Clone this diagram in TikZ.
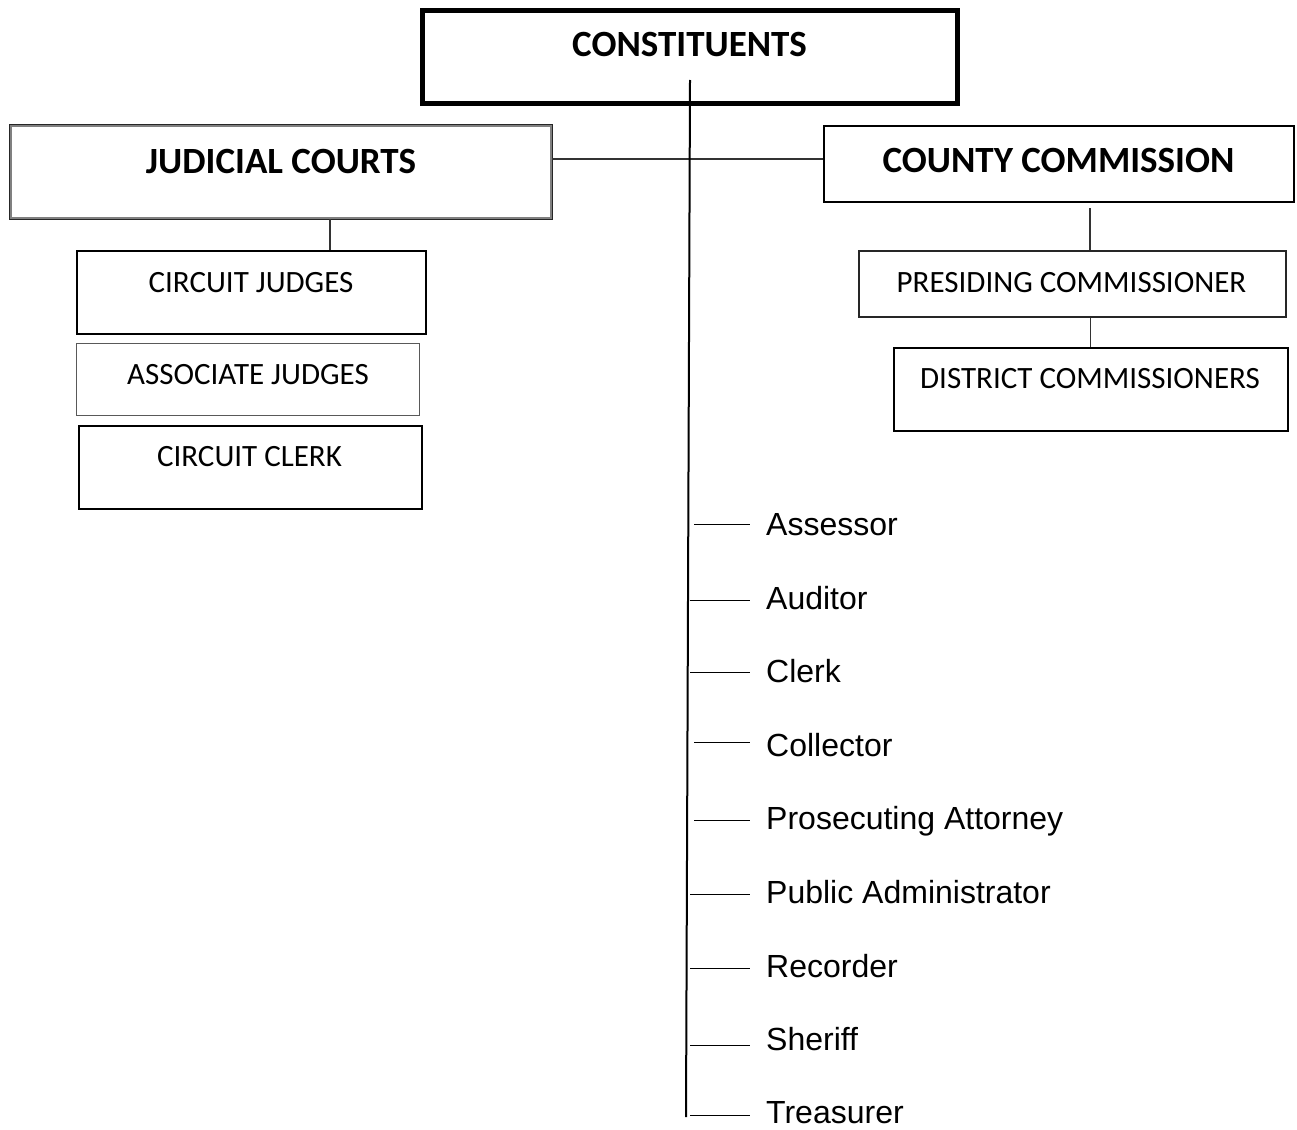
\documentclass[tikz,border=0pt]{standalone}
\usepackage{fontspec}
\setmainfont{Carlito}
\newfontfamily\arialfont{Liberation Sans}
\begin{document}
\begin{tikzpicture}[x=1pt,y=-1pt,
  box/.style={draw, rectangle, inner sep=0pt},
  title/.style={font=\fontsize{37}{40}\selectfont\bfseries, anchor=base, inner sep=0pt},
  btext/.style={font=\fontsize{31}{34}\selectfont, anchor=base, inner sep=0pt},
  item/.style={font=\arialfont\fontsize{32}{36}\selectfont, anchor=base west, inner xsep=16pt, inner ysep=0pt},
  conn/.style={draw=black!80, line width=1.1pt},
  tick/.style={draw=black, line width=1pt},
  spine/.style={draw=black, line width=2pt}]
\useasboundingbox (0,0) rectangle (1297,1129);

% boxes
\node[box, line width=5pt, minimum width=535pt, minimum height=93pt] (con) at (690,57) {};
\node[box, draw=black!50, line width=2.8pt, minimum width=540pt, minimum height=92pt] (jud) at (281,172) {};
\draw[black!85, line width=1.1pt] (jud.north west) rectangle (jud.south east);
\node[box, line width=2.5pt, minimum width=470pt, minimum height=76pt] (cty) at (1059,164) {};
\node[box, line width=2pt, minimum width=349pt, minimum height=83pt] (cj) at (251,292) {};
\node[box, draw=black!65, line width=1.6pt, minimum width=343pt, minimum height=72pt] (aj) at (248,379.5) {};
\node[box, line width=2pt, minimum width=343pt, minimum height=83pt] (cc) at (250,467) {};
\node[box, draw=black!85, line width=2pt, minimum width=427pt, minimum height=66pt] (pc) at (1072,283.5) {};
\node[box, line width=2pt, minimum width=394pt, minimum height=83pt] (dc) at (1090.5,389) {};

% box texts
\node[title] (conT) at (689.5,57) {CONSTITUENTS};
\node[title] (judT) at (281,173) {JUDICIAL COURTS};
\node[title] (ctyT) at (1058.5,172) {COUNTY COMMISSION};
\node[btext] (cjT) at (251,292) {CIRCUIT JUDGES};
\node[btext] (ajT) at (248,384) {ASSOCIATE JUDGES};
\node[btext] (ccT) at (249.5,466) {CIRCUIT CLERK};
\node[btext] (pcT) at (1071.5,292) {PRESIDING COMMISSIONER};
\node[btext] (dcT) at (1090,388) {DISTRICT COMMISSIONERS};

% connectors between boxes
\coordinate (jc) at ([yshift=13pt]jud.east);
\draw[conn] (jc) -- (jc -| cty.west);
\draw[conn] (jud.south -| 330,0) -- (cj.north -| 330,0);
\coordinate (cc1) at (1090,208);
\draw[conn] (cc1) -- (pc.north -| cc1);
\draw[conn] (pc.south -| dc.north) -- (dc.north);

% spine
\coordinate (spT) at (690,80);
\coordinate (spB) at (686,1117);
\draw[spine] (spT) -- (spB);

% list items
\node[item] (i1) at (750,535.5) {Assessor};
\node[item] (i2) at (750,609.5) {Auditor};
\node[item] (i3) at (750,682.5) {Clerk};
\node[item] (i4) at (750,756.5) {Collector};
\node[item] (i5) at (750,829.5) {Prosecuting Attorney};
\node[item] (i6) at (750,903.5) {Public Administrator};
\node[item] (i7) at (750,977.5) {Recorder};
\node[item] (i8) at (750,1050.5) {Sheriff};
\node[item] (i9) at (750,1123.5) {Treasurer};

\foreach \n/\sx/\ty in {i1/694/524, i2/690/600, i3/690/672, i4/694/742, i5/694/820, i6/690/894, i7/690/968, i8/690/1045, i9/690/1115}{
  \coordinate (s\n) at (\sx,\ty);
  \draw[tick] (s\n) -- (s\n -| \n.west);
}
\end{tikzpicture}
\end{document}
